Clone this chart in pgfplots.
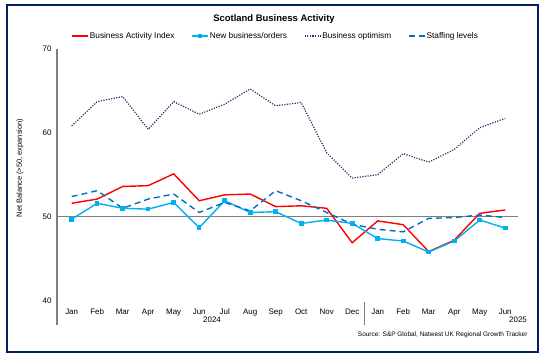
\documentclass[border=0pt]{standalone}
\usepackage{fontspec}
\setmainfont{Liberation Sans}
\usepackage{pgfplots}
\pgfplotsset{compat=1.18}
\definecolor{bai}{HTML}{FF0000}
\definecolor{nbo}{HTML}{00B0F0}
\definecolor{opt}{HTML}{1F3864}
\definecolor{stf}{HTML}{0070C0}
\definecolor{framec}{HTML}{002060}
\definecolor{axc}{HTML}{7F7F7F}

\pgfplotstableread{
i bai nbo opt stf
0 51.6 49.7 60.8 52.4
1 52.1 51.6 63.7 53.1
2 53.6 51.0 64.3 51.0
3 53.7 50.9 60.4 52.1
4 55.1 51.7 63.7 52.7
5 51.9 48.7 62.2 50.5
6 52.6 51.9 63.4 51.7
7 52.7 50.5 65.2 50.7
8 51.2 50.6 63.2 53.1
9 51.3 49.2 63.6 51.9
10 51.0 49.6 57.6 50.5
11 46.9 49.2 54.6 49.1
12 49.5 47.4 55.0 48.5
13 49.05 47.1 57.5 48.2
14 45.85 45.8 56.5 49.8
15 47.2 47.1 58.0 49.9
16 50.4 49.6 60.6 50.2
17 50.8 48.65 61.7 49.9
}\datatable

\begin{document}
\begin{tikzpicture}[x=1bp,y=1bp]
\path[use as bounding box] (0,0) rectangle (547,362);
\draw[framec, line width=1.6bp] (7,10) rectangle (538,357);
\node[font=\fontsize{9.5}{11}\selectfont\bfseries] at (274,343) {Scotland Business Activity};
\begin{axis}[
  at={(57bp,61.3bp)}, anchor=south west,
  scale only axis, width=460.7bp, height=252bp,
  xmin=-0.576, xmax=17.49, ymin=40, ymax=70,
  axis line style={draw=none},
  major tick length=0pt,
  ytick={40,50,60,70},
  xtick={0,...,17},
  xticklabels={Jan,Feb,Mar,Apr,May,Jun,Jul,Aug,Sep,Oct,Nov,Dec,Jan,Feb,Mar,Apr,May,Jun},
  /pgf/number format/assume math mode=true,
  tick label style={font=\fontsize{8}{9.6}\selectfont},
  xticklabel style={yshift=-4.5bp, text height=6bp, text depth=1.5bp},
  yticklabel style={xshift=-2bp},
  legend columns=4,
  legend style={at={(axis description cs:0.4737,1.0504)}, anchor=center, draw=none, fill=none,
    font=\fontsize{8.3}{10}\selectfont, nodes={inner sep=1bp},
    /tikz/every even column/.append style={column sep=16bp}},
  legend image code/.code={\draw[mark repeat=2,mark phase=2,#1] plot coordinates {(0bp,0bp) (8bp,0bp) (16bp,0bp)};},
  clip=false,
]
\draw[axc, line width=1.1bp] (axis cs:-0.576,50) -- (axis cs:17.49,50);
\addplot[bai, line width=1.4bp, no marks] table[x=i,y=bai] {\datatable};
\addlegendentry{Business Activity Index}
\addplot[nbo, line width=1.4bp, mark=square*, mark size=1.6bp] table[x=i,y=nbo] {\datatable};
\addlegendentry{New business/orders}
\addplot[opt, line width=1.2bp, dash pattern=on 1.2bp off 1.4bp, no marks] table[x=i,y=opt] {\datatable};
\addlegendentry{Business optimism}
\addplot[stf, line width=1.4bp, dash pattern=on 6bp off 4bp, no marks] table[x=i,y=stf] {\datatable};
\addlegendentry{Staffing levels}
\end{axis}
\draw[axc, line width=1.1bp] (57,313.3) -- (57,37);
\draw[axc, line width=1.1bp] (364.8,60) -- (364.8,37);
\node[font=\fontsize{8}{9.6}\selectfont] at (212,42) {2024};
\node[font=\fontsize{8}{9.6}\selectfont] at (518,42) {2025};
\node[font=\fontsize{6.5}{8}\selectfont, anchor=east] at (531,27) {Source: S\&P Global, Natwest UK Regional Growth Tracker};
\node[font=\fontsize{7.5}{9}\selectfont, rotate=90] at (20,194) {Net Balance (>50, expansion)};
\end{tikzpicture}
\end{document}
